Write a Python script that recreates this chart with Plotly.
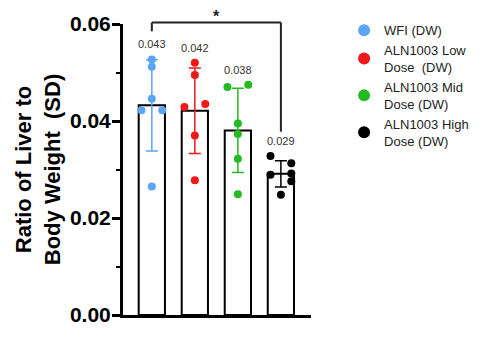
import plotly.graph_objects as go

# ---- data ----
groups = ["WFI (DW)", "ALN1003 Low<br>Dose  (DW)", "ALN1003 Mid<br>Dose (DW)", "ALN1003 High<br>Dose (DW)"]
colors = ["#5AA5F5", "#F01818", "#22BB22", "#000000"]

wfi = [0.0527, 0.0512, 0.0446, 0.0422, 0.0422, 0.0265]
low = [0.0520, 0.0495, 0.0429, 0.0435, 0.0370, 0.0278]
mid = [0.0470, 0.0475, 0.0395, 0.0373, 0.0322, 0.0249]
high = [0.0328, 0.0313, 0.0289, 0.0292, 0.0276, 0.0248]
sd = [0.0094, 0.0088, 0.0087, 0.0027]

# significance bracket (WFI vs High): top level and leg ends
bracket_top = 0.0603
bracket_left_end = 0.0585
bracket_right_end = 0.0378

# ---- layout / style helpers (not data) ----
jitter_slots = [
    [0, 0, 0, -1, 1, 0],
    [0, 0, -1, 1, 0, 0],
    [-1, 1, 0, 0, 0, 0],
    [-1, 1, -1, 1, 1, 0],
]
jitter_step = 0.242
FONT = "Liberation Sans, Arial, Helvetica, sans-serif"
YMAX = 0.06

series = [wfi, low, mid, high]
means = [sum(v) / len(v) for v in series]

fig = go.Figure()

for i, (m, s, c) in enumerate(zip(means, sd, colors)):
    fig.add_trace(go.Bar(
        x=[i], y=[m], width=0.61,
        marker=dict(color="white", line=dict(color="black", width=2)),
        error_y=dict(type="data", array=[s], color=c, thickness=1.5, width=6),
        showlegend=False, hoverinfo="skip",
    ))

for i, (vals, c, name, jit) in enumerate(zip(series, colors, groups, jitter_slots)):
    fig.add_trace(go.Scatter(
        x=[i + j * jitter_step for j in jit], y=vals,
        mode="markers", name=name,
        marker=dict(color=c, size=8),
        cliponaxis=False,
    ))

# mean labels above the highest point of each group
for i, (vals, m) in enumerate(zip(series, means)):
    fig.add_annotation(
        x=i, y=max(vals), text=f"{m:.3f}", showarrow=False,
        yanchor="bottom", yshift=7,
        font=dict(family=FONT, size=11, color="#333333"),
    )

# significance bracket
line_style = dict(color="#222222", width=2)
fig.add_shape(type="line", xref="x", yref="paper", x0=0, x1=3,
              y0=bracket_top / YMAX, y1=bracket_top / YMAX, line=line_style)
fig.add_shape(type="line", xref="x", yref="paper", x0=0, x1=0,
              y0=bracket_top / YMAX, y1=bracket_left_end / YMAX, line=line_style)
fig.add_shape(type="line", xref="x", yref="paper", x0=3, x1=3,
              y0=bracket_top / YMAX, y1=bracket_right_end / YMAX, line=line_style)
fig.add_annotation(x=1.5, xref="x", y=bracket_top / YMAX, yref="paper",
                   text="<b>*</b>", showarrow=False, yanchor="bottom", yshift=-4,
                   font=dict(family=FONT, size=16, color="#222222"))

fig.update_layout(
    width=486, height=338,
    margin=dict(l=123, r=164, t=19, b=23),
    paper_bgcolor="white", plot_bgcolor="white",
    barmode="overlay",
    font=dict(family=FONT, color="black"),
    legend=dict(x=1.176, xanchor="left", y=1.03, yanchor="top",
                font=dict(family=FONT, size=13, color="#222222"),
                itemsizing="constant", tracegroupgap=0),
    xaxis=dict(range=[-0.67, 3.70], showticklabels=False, ticks="",
               showline=True, linewidth=3, linecolor="black",
               showgrid=False, zeroline=False),
    yaxis=dict(range=[0, YMAX], dtick=0.02, tickformat=".2f",
               ticks="outside", ticklen=8, tickwidth=3, tickcolor="black",
               ticklabelstandoff=-3,
               showline=True, linewidth=3, linecolor="black",
               showgrid=False, zeroline=False,
               tickfont=dict(family=FONT, size=21, color="black"),
               minor=dict(ticks="outside", dtick=0.01, ticklen=4, tickwidth=2, tickcolor="black"),
               title=dict(text="<b>Ratio of Liver to<br>Body Weight  (SD)</b>",
                          font=dict(family=FONT, size=22, color="black"),
                          standoff=4)),
)
fig.update_yaxes(tickprefix="<b>", ticksuffix="</b>")

fig.write_html("out.html")
